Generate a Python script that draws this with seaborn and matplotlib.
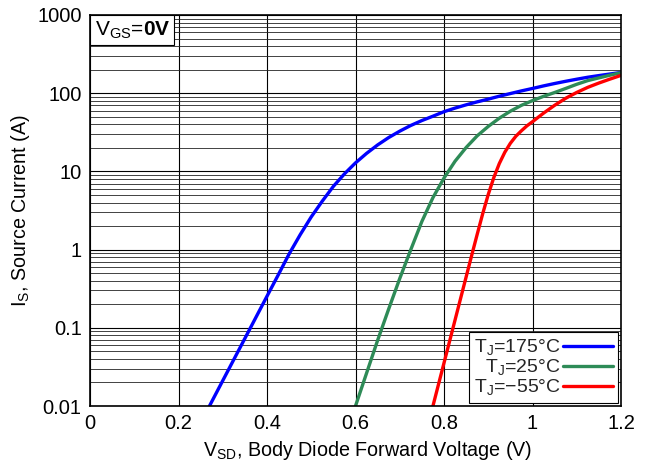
import matplotlib
matplotlib.use("Agg")
import matplotlib.pyplot as plt
import matplotlib.ticker as mticker
import numpy as np
import pandas as pd
import seaborn as sns

# Body diode forward characteristics, three junction temperatures
v_175 = [0.27, 0.30, 0.35, 0.40, 0.425, 0.45, 0.475, 0.50, 0.525, 0.55, 0.575, 0.60, 0.625, 0.65,
         0.675, 0.70, 0.725, 0.75, 0.775, 0.80, 0.825, 0.85, 0.875, 0.90, 0.925, 0.95, 0.975,
         1.00, 1.025, 1.05, 1.075, 1.10, 1.125, 1.15, 1.175, 1.20]
i_175 = [0.010, 0.0211, 0.0731, 0.2535, 0.47, 0.88, 1.55, 2.62, 4.17, 6.44, 9.3, 12.85, 17.0, 21.8,
         27.1, 32.7, 38.7, 44.7, 50.8, 58.0, 64.5, 71.0, 77.5, 84.0, 91.5, 99.0, 107.0,
         115.0, 124.0, 133.0, 142.0, 151.0, 160.0, 168.0, 176.0, 184.0]

v_25 = [0.60, 0.625, 0.65, 0.675, 0.70, 0.725, 0.75, 0.775, 0.80, 0.825, 0.85, 0.875, 0.90,
        0.925, 0.95, 0.975, 1.00, 1.025, 1.05, 1.075, 1.10, 1.125, 1.15, 1.175, 1.20]
i_25 = [0.010, 0.0263, 0.0692, 0.174, 0.427, 1.0, 2.29, 4.62, 8.22, 13.5, 20.2, 28.5, 37.6,
        47.9, 58.9, 70.0, 80.4, 91.2, 102.0, 115.0, 130.0, 145.0, 157.0, 170.0, 183.0]

v_m55 = [0.775, 0.80, 0.825, 0.85, 0.8625, 0.875, 0.8875, 0.90, 0.9125, 0.925, 0.9375, 0.95,
         0.9625, 0.975, 0.9875, 1.00, 1.025, 1.05, 1.075, 1.10, 1.125, 1.15, 1.175, 1.20]
i_m55 = [0.010, 0.0355, 0.126, 0.447, 0.841, 1.567, 2.88, 5.07, 8.32, 12.6, 17.6, 22.9,
         28.2, 33.1, 38.3, 43.2, 55.6, 70.0, 86.1, 102.3, 118.9, 134.9, 151.4, 169.0]

labels = ["T$_\\mathregular{J}$=175°C", "T$_\\mathregular{J}$=25°C", "T$_\\mathregular{J}$=\u221255°C"]
colors = ["#0000ff", "#2e8b57", "#ff0000"]

x_ticks = [0, 0.2, 0.4, 0.6, 0.8, 1.0, 1.2]
y_ticks = [0.01, 0.1, 1, 10, 100, 1000]
y_tick_labels = ["0.01", "0.1", "1", "10", "100", "1000"]

df = pd.concat([
    pd.DataFrame({"V": v_175, "I": i_175, "T": labels[0]}),
    pd.DataFrame({"V": v_25, "I": i_25, "T": labels[1]}),
    pd.DataFrame({"V": v_m55, "I": i_m55, "T": labels[2]}),
])

sns.set_theme(style="white")
plt.rcParams["font.family"] = ["Liberation Sans", "DejaVu Sans"]
plt.rcParams["mathtext.fontset"] = "custom"
plt.rcParams["mathtext.rm"] = "Liberation Sans"
plt.rcParams["mathtext.bf"] = "Liberation Sans:bold"

fig = plt.figure(figsize=(6.45, 4.68), dpi=100)
ax = fig.add_axes([90 / 645, 62 / 468, 531 / 645, 391 / 468])

sns.lineplot(data=df, x="V", y="I", hue="T", palette=dict(zip(labels, colors)),
             hue_order=labels, linewidth=2.4, sort=False, ax=ax, legend=False)

ax.set_yscale("log")
ax.set_xlim(0, 1.2)
ax.set_ylim(0.01, 1000)
ax.set_xticks(x_ticks)
ax.xaxis.set_major_formatter(mticker.FormatStrFormatter("%g"))
ax.set_yticks(y_ticks)
ax.set_yticklabels(y_tick_labels)
ax.yaxis.set_minor_locator(mticker.LogLocator(base=10, subs=np.arange(2, 10)))
ax.yaxis.set_minor_formatter(mticker.NullFormatter())
ax.tick_params(axis="both", which="both", length=0, labelsize=14.5, colors="black", pad=6)

ax.grid(True, which="major", axis="both", color="black", linewidth=0.8)
ax.grid(True, which="minor", axis="y", color="#222222", linewidth=0.6)
for s in ax.spines.values():
    s.set_color("black")
    s.set_linewidth(1.2)

ax.set_xlabel("V$_\\mathregular{SD}$, Body Diode Forward Voltage (V)", fontsize=14.2, color="black", labelpad=4)
ax.xaxis.label.set_x(0.522)
ax.set_ylabel("I$_\\mathregular{S}$, Source Current (A)", fontsize=14.2, color="black", labelpad=4)

handles = [plt.Line2D([], [], color=c, linewidth=2.4) for c in colors]
leg = ax.legend(handles, labels, loc="lower right", markerfirst=False, fancybox=False,
                edgecolor="black", framealpha=1, fontsize=14, borderaxespad=0.15,
                handlelength=2.6, handletextpad=0.1, labelspacing=0.0, borderpad=0.25)
leg.get_frame().set_linewidth(0.8)
for t in leg.get_texts():
    t.set_ha("right")

ax.text(0.0085, 0.989, "V$_\\mathregular{GS}$=$\\mathbf{0V}$", transform=ax.transAxes, fontsize=15,
        va="top", ha="left", color="black",
        bbox=dict(boxstyle="square,pad=0.2", facecolor="white", edgecolor="black", linewidth=0.8))

fig.savefig("out.png", dpi=100)
